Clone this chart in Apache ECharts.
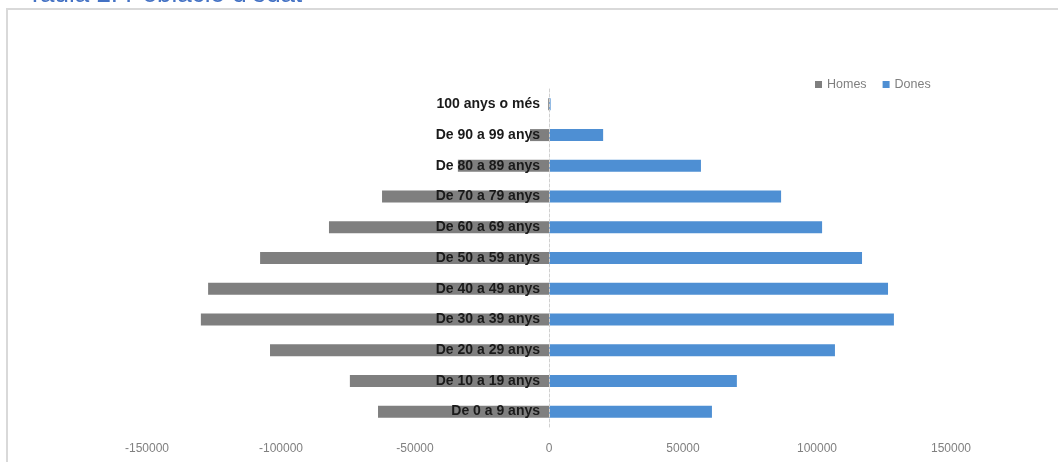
<!DOCTYPE html>
<html>
<head>
<meta charset="utf-8">
<script src="https://cdn.jsdelivr.net/npm/echarts@6/dist/echarts.min.js"></script>
<style>
  html, body { margin: 0; padding: 0; background: #fff; }
  #chart { width: 1058px; height: 462px; }
</style>
</head>
<body>
<div id="chart"></div>
<script>
// age groups, bottom to top
const ageGroups = [
  "De 0 a 9 anys", "De 10 a 19 anys", "De 20 a 29 anys", "De 30 a 39 anys",
  "De 40 a 49 anys", "De 50 a 59 anys", "De 60 a 69 anys", "De 70 a 79 anys",
  "De 80 a 89 anys", "De 90 a 99 anys", "100 anys o més",
];
const homes = [-63800, -74300, -104100, -129900, -127200, -107800, -82100, -62300, -34000, -7100, -300];
const dones = [60800, 70100, 106700, 128700, 126500, 116800, 101900, 86600, 56700, 20200, 600];
const xTicks = [-150000, -100000, -50000, 0, 50000, 100000, 150000];

const gridLeft = 147;
const gridRight = 951;
// pixel position of the zero line, where the category labels sit
const zeroX = gridLeft + (gridRight - gridLeft) * (0 - xTicks[0]) / (xTicks[xTicks.length - 1] - xTicks[0]);

const chart = echarts.init(document.getElementById("chart"));

chart.setOption({
  animation: false,
  textStyle: { fontFamily: "Liberation Sans" },
  title: {
    text: "Taula 2. Població d'edat",
    left: 22,
    top: -23,
    textStyle: { color: "#4472c4", fontSize: 26, fontWeight: "normal" },
  },
  graphic: [
    {
      type: "rect",
      shape: { x: 7, y: 9, width: 1100, height: 500 },
      style: { fill: "none", stroke: "#d9d9d9", lineWidth: 2 },
      silent: true,
    },
  ],
  legend: {
    top: 73,
    left: 810,
    itemWidth: 7,
    itemHeight: 7,
    itemGap: 16,
    icon: "rect",
    textStyle: { color: "#7f7f7f", fontSize: 12.5 },
    data: ["Homes", "Dones"],
  },
  grid: {
    left: gridLeft,
    right: 1058 - gridRight,
    top: 89,
    bottom: 462 - 427,
  },
  xAxis: {
    type: "value",
    min: xTicks[0],
    max: xTicks[xTicks.length - 1],
    interval: 50000,
    axisLine: { show: false },
    axisTick: { show: false },
    splitLine: { show: false },
    axisLabel: {
      color: "#808080",
      fontSize: 12,
      margin: 16,
      formatter: (v) => String(v),
    },
  },
  yAxis: {
    type: "category",
    data: ageGroups,
    z: 10,
    offset: -(zeroX - gridLeft),
    axisLine: {
      onZero: false,
      lineStyle: { color: "#d0d0d0", width: 1, type: [3, 2] },
    },
    axisTick: { show: false },
    axisLabel: {
      color: "#1a1a1a",
      fontSize: 14,
      fontWeight: "bold",
      margin: 9,
    },
  },
  series: [
    {
      name: "Homes",
      type: "bar",
      data: homes,
      barWidth: 12,
      barGap: "-100%",
      itemStyle: { color: "#7f7f7f" },
    },
    {
      name: "Dones",
      type: "bar",
      data: dones,
      barWidth: 12,
      itemStyle: { color: "#4e8fd3" },
    },
  ],
});
</script>
</body>
</html>
